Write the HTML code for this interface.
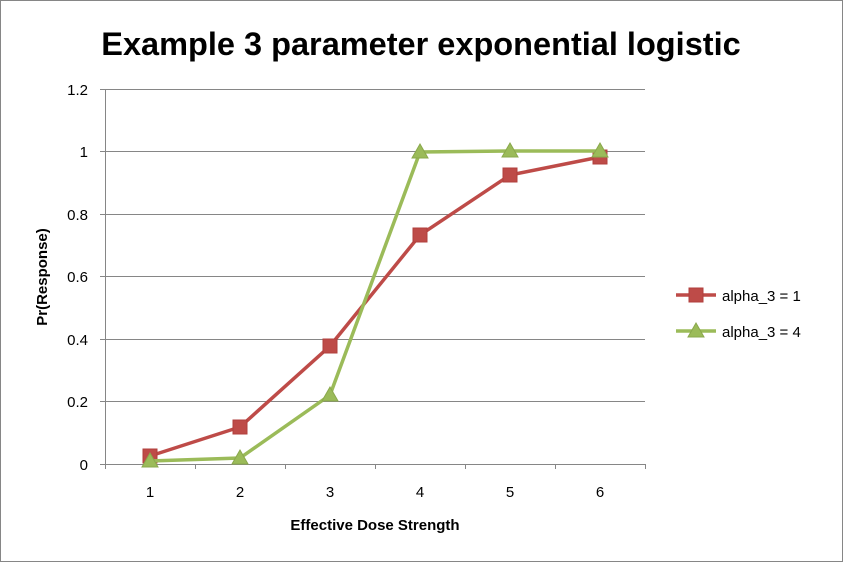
<!DOCTYPE html>
<html><head><meta charset="utf-8"><style>
html,body{margin:0;padding:0;background:#fff}
svg{display:block}
text{font-family:"Liberation Sans",sans-serif}
</style></head><body>
<svg width="843" height="562" viewBox="0 0 843 562" xmlns="http://www.w3.org/2000/svg">
<rect x="0.5" y="0.5" width="842" height="561" fill="#fff" stroke="#868686"/>
<text x="421" y="55" text-anchor="middle" font-size="32.5" font-weight="bold" fill="#000">Example 3 parameter exponential logistic</text>
<g stroke="#868686" stroke-width="1">
<line x1="105" y1="89.5" x2="645" y2="89.5"/>
<line x1="105" y1="151.5" x2="645" y2="151.5"/>
<line x1="105" y1="214.5" x2="645" y2="214.5"/>
<line x1="105" y1="276.5" x2="645" y2="276.5"/>
<line x1="105" y1="339.5" x2="645" y2="339.5"/>
<line x1="105" y1="401.5" x2="645" y2="401.5"/>
<line x1="105" y1="464.5" x2="645" y2="464.5"/>
<line x1="105.5" y1="89" x2="105.5" y2="469"/>
<line x1="100" y1="89.5" x2="105" y2="89.5"/><line x1="100" y1="151.5" x2="105" y2="151.5"/><line x1="100" y1="214.5" x2="105" y2="214.5"/><line x1="100" y1="276.5" x2="105" y2="276.5"/><line x1="100" y1="339.5" x2="105" y2="339.5"/><line x1="100" y1="401.5" x2="105" y2="401.5"/><line x1="100" y1="464.5" x2="105" y2="464.5"/>
<line x1="195.5" y1="464" x2="195.5" y2="469"/><line x1="285.5" y1="464" x2="285.5" y2="469"/><line x1="375.5" y1="464" x2="375.5" y2="469"/><line x1="465.5" y1="464" x2="465.5" y2="469"/><line x1="555.5" y1="464" x2="555.5" y2="469"/><line x1="645.5" y1="464" x2="645.5" y2="469"/>
</g>
<g font-size="15" fill="#000" text-anchor="end">
<text x="88" y="95">1.2</text><text x="88" y="157">1</text><text x="88" y="220">0.8</text><text x="88" y="282">0.6</text><text x="88" y="345">0.4</text><text x="88" y="407">0.2</text><text x="88" y="470">0</text>
</g>
<g font-size="15" fill="#000" text-anchor="middle">
<text x="150" y="497">1</text><text x="240" y="497">2</text><text x="330" y="497">3</text><text x="420" y="497">4</text><text x="510" y="497">5</text><text x="600" y="497">6</text>
</g>
<text x="375" y="530" text-anchor="middle" font-size="15" font-weight="bold">Effective Dose Strength</text>
<text transform="translate(47,277) rotate(-90)" text-anchor="middle" font-size="15" font-weight="bold">Pr(Response)</text>
<polyline points="150,456 240,427 330,346 420,235 510,175 600,157" fill="none" stroke="#be4b48" stroke-width="3.5"/>
<g fill="#be4b48" stroke="#b03f3c" stroke-width="1">
<rect x="143" y="449" width="14" height="14"/><rect x="233" y="420" width="14" height="14"/><rect x="323" y="339" width="14" height="14"/><rect x="413" y="228" width="14" height="14"/><rect x="503" y="168" width="14" height="14"/><rect x="593" y="150" width="14" height="14"/>
</g>
<polyline points="150,461 240,458 330,395 420,152 510,151 600,151" fill="none" stroke="#9bbb59" stroke-width="3.5"/>
<g fill="#9bbb59" stroke="#8aa84c" stroke-width="1">
<polygon points="150,453 158,467 142,467"/><polygon points="240,450 248,464 232,464"/><polygon points="330,387 338,401 322,401"/><polygon points="420,144 428,158 412,158"/><polygon points="510,143 518,157 502,157"/><polygon points="600,143 608,157 592,157"/>
</g>
<line x1="676" y1="295" x2="716" y2="295" stroke="#be4b48" stroke-width="3.5"/>
<rect x="689" y="288" width="14" height="14" fill="#be4b48" stroke="#b03f3c"/>
<text x="722" y="301" font-size="15">alpha_3 = 1</text>
<line x1="676" y1="331" x2="716" y2="331" stroke="#9bbb59" stroke-width="3.5"/>
<polygon points="696,323 704,337 688,337" fill="#9bbb59" stroke="#8aa84c"/>
<text x="722" y="337" font-size="15">alpha_3 = 4</text>
</svg>
</body></html>
